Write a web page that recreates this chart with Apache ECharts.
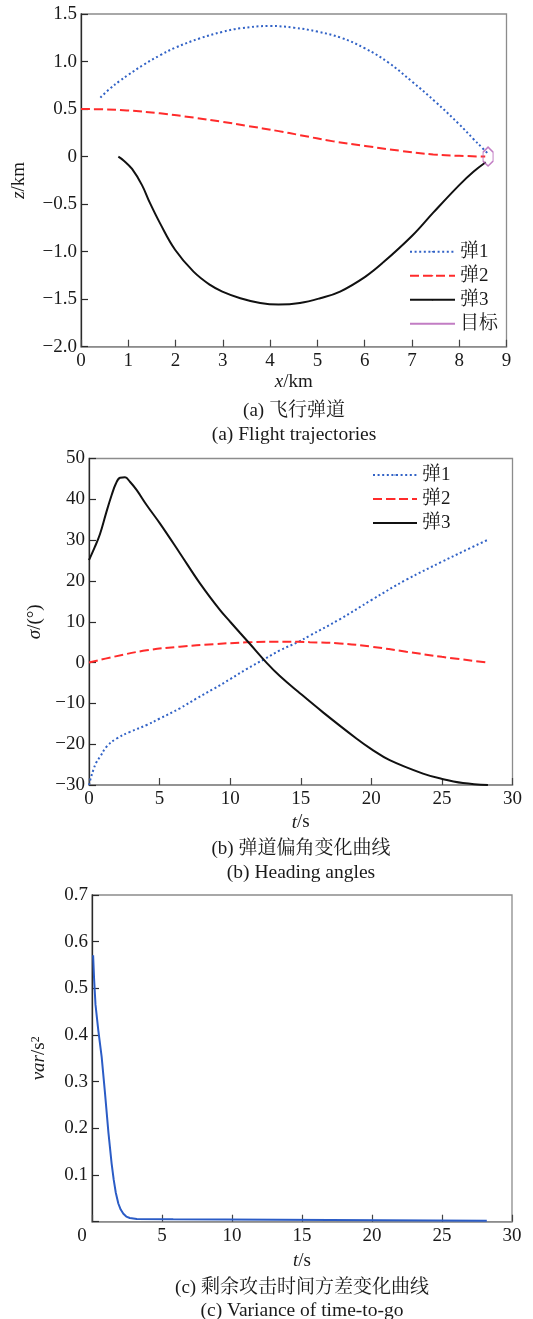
<!DOCTYPE html>
<html><head><meta charset="utf-8">
<script src="https://cdn.jsdelivr.net/npm/echarts/dist/echarts.min.js"></script>
<style>html,body{margin:0;padding:0;background:#fff}#c{width:533px;height:1319px}</style>
</head><body><div id="c"></div>
<script>
// ---------- (a) Flight trajectories ----------
const traj1X = [0.41, 0.60, 0.83, 1.00, 1.32, 1.67, 1.99, 2.52, 2.99, 3.37, 4.00, 4.50, 5.00, 5.50, 6.00, 6.50, 7.00, 7.50, 8.00, 8.30, 8.50, 8.60];
const traj1Z = [0.62, 0.71, 0.80, 0.86, 0.965, 1.065, 1.145, 1.245, 1.312, 1.35, 1.374, 1.356, 1.315, 1.25, 1.14, 0.99, 0.79, 0.575, 0.34, 0.185, 0.085, 0.035];
const traj2X = [0.00, 0.50, 0.97, 1.67, 2.38, 2.99, 3.51, 4.18, 4.63, 5.34, 6.01, 6.75, 7.45, 8.00, 8.55];
const traj2Z = [0.50, 0.497, 0.486, 0.455, 0.41, 0.366, 0.324, 0.268, 0.226, 0.160, 0.112, 0.061, 0.022, 0.008, 0.0];
const traj3X = [0.79, 0.90, 1.08, 1.29, 1.46, 1.67, 1.99, 2.38, 2.73, 2.99, 3.37, 3.79, 4.18, 4.63, 5.06, 5.48, 6.01, 6.40, 7.01, 7.45, 8.00, 8.30, 8.56];
const traj3Z = [0.0, -0.04, -0.13, -0.30, -0.49, -0.70, -0.98, -1.21, -1.35, -1.42, -1.49, -1.54, -1.556, -1.54, -1.49, -1.42, -1.265, -1.11, -0.83, -0.59, -0.30, -0.16, -0.06];
const targetX = [8.61];
const targetZ = [0.0];
const axisAX = ['0','1','2','3','4','5','6','7','8','9'];
const axisAY = ['−2.0','−1.5','−1.0','−0.5','0','0.5','1.0','1.5'];

// ---------- (b) Heading angles ----------
const head1T = [0, 0.15, 0.31, 0.50, 0.78, 1.25, 1.96, 2.90, 4.08, 5.02, 6.44, 7.62, 8.80, 10.03, 11.16, 12.46, 13.52, 14.80, 15.64, 17.76, 20.00, 22.48, 25.00, 26.49, 28.20];
const head1V = [-30, -28, -26.3, -24.6, -23.1, -20.6, -18.6, -17.0, -15.3, -13.7, -11.2, -8.8, -6.5, -4.0, -1.6, 0.9, 3.0, 5.0, 6.6, 10.6, 15.3, 20.3, 24.7, 27.2, 30.0];
const head2T = [0, 1.72, 4.08, 6.44, 8.80, 11.16, 13.00, 14.81, 15.64, 17.76, 20.00, 22.48, 25.00, 28.26];
const head2V = [0.0, 1.4, 3.0, 3.9, 4.5, 4.95, 5.1, 5.1, 5.0, 4.7, 3.9, 2.65, 1.4, 0.0];
const head3T = [0, 0.40, 0.78, 1.20, 1.60, 1.90, 2.20, 2.55, 2.90, 3.37, 4.08, 5.02, 6.44, 7.86, 9.27, 10.00, 10.69, 11.39, 12.57, 13.52, 14.80, 16.58, 18.94, 20.00, 21.30, 23.66, 25.00, 26.49, 28.26];
const head3V = [25.1, 28.2, 31.5, 36.5, 41.0, 43.8, 45.3, 45.4, 44.3, 42.3, 38.6, 34.1, 26.8, 19.4, 12.9, 10.0, 7.3, 4.6, 0.0, -3.3, -7.1, -12.2, -18.6, -21.2, -23.9, -27.2, -28.5, -29.5, -30.0];
const axisBX = ['0','5','10','15','20','25','30'];
const axisBY = ['−30','−20','−10','0','10','20','30','40','50'];

// ---------- (c) Variance of time-to-go ----------
const varT = [0.08, 0.15, 0.25, 0.45, 0.69, 0.93, 1.17, 1.40, 1.55, 1.70, 1.88, 2.05, 2.24, 2.45, 2.70, 3.20, 5.80, 5.90, 28.20];
const varV = [0.571, 0.52, 0.465, 0.41, 0.353, 0.275, 0.192, 0.125, 0.09, 0.062, 0.039, 0.026, 0.017, 0.011, 0.008, 0.006, 0.005, 0.002, 0.002];
const axisCX = ['0','5','10','15','20','25','30'];
const axisCY = ['','0.1','0.2','0.3','0.4','0.5','0.6','0.7'];

const legendNamesA = ['弹1','弹2','弹3','目标'];
const legendNamesB = ['弹1','弹2','弹3'];
const captions = [
  ['(a) 飞行弹道', '(a) Flight trajectories'],
  ['(b) 弹道偏角变化曲线', '(b) Heading angles'],
  ['(c) 剩余攻击时间方差变化曲线', '(c) Variance of time-to-go']
];

const FONT = "'Liberation Serif', 'Noto Serif CJK SC', 'Noto Sans CJK SC', serif";
const TXT = '#1a1a1a';
const FS = 19;
const pairs = (xs, ys) => xs.map((x, i) => [x, ys[i]]);

const styleBlue = {color: '#3162c6', width: 2, type: [2, 2.6], cap: 'butt'};
const styleRed = {color: '#ff2b2b', width: 2, type: [9, 4]};
const styleBlack = {color: '#111111', width: 2, type: 'solid'};
const purple = '#b35cb5';

function idxLabel(arr, min, step) {
  return v => { const i = Math.round((v - min) / step); return arr[i] !== undefined ? arr[i] : ''; };
}

const grids = [
  {left: 81, top: 14, width: 425.5, height: 332.7},
  {left: 89, top: 458.5, width: 423.5, height: 326.5},
  {left: 92, top: 895, width: 420, height: 326.7}
].map(g => Object.assign(g, {show: true, borderColor: '#8c8c8c', borderWidth: 1.3, backgroundColor: 'transparent', containLabel: false, outerBoundsMode: 'none'}));

function xAxis(gi, min, max, interval, labels, name, gap, shiftZero) {
  const fmt = idxLabel(labels, min, interval);
  return {
    type: 'value', gridIndex: gi, min, max, interval,
    name, nameLocation: 'middle', nameGap: gap,
    nameTextStyle: {fontFamily: FONT, fontSize: FS, color: TXT,
      rich: {i: {fontStyle: 'italic', fontFamily: FONT, fontSize: FS, color: TXT}}},
    axisLine: {show: true, onZero: false, lineStyle: {color: '#8c8c8c', width: 1.6}},
    axisTick: {show: true, inside: true, length: 7, lineStyle: {color: '#444', width: 1.2}},
    axisLabel: {show: true, margin: 5, fontFamily: FONT, fontSize: FS, color: TXT,
      showMinLabel: true, showMaxLabel: true, hideOverlap: false,
      formatter: shiftZero ? (v => v === 0 ? '{z|' + fmt(v) + '}' : fmt(v)) : fmt,
      rich: {z: {fontFamily: FONT, fontSize: FS, color: TXT, padding: [0, 20, 0, 0]}}},
    splitLine: {show: false}
  };
}
function yAxis(gi, min, max, interval, labels, name, gap, rich) {
  return {
    type: 'value', gridIndex: gi, min, max, interval,
    name, nameLocation: 'middle', nameGap: gap, nameRotate: 90,
    nameTextStyle: {fontFamily: FONT, fontSize: FS, color: TXT,
      rich: Object.assign({i: {fontStyle: 'italic', fontFamily: FONT, fontSize: FS, color: TXT}}, rich || {})},
    axisLine: {show: true, onZero: false, lineStyle: {color: '#2a2a2a', width: 1.3}},
    axisTick: {show: true, inside: true, length: 7, lineStyle: {color: '#2a2a2a', width: 1.2}},
    axisLabel: {show: true, margin: 4, fontFamily: FONT, fontSize: FS, color: TXT,
      showMinLabel: true, showMaxLabel: true, hideOverlap: false,
      formatter: idxLabel(labels, min, interval)},
    splitLine: {show: false}
  };
}

const lineSeries = (name, gi, data, ls, smooth) => ({
  name, type: 'line', xAxisIndex: gi, yAxisIndex: gi, data,
  symbol: 'none', showSymbol: false, smooth: smooth === undefined ? 0.4 : smooth,
  lineStyle: ls, itemStyle: {color: ls.color}, z: 3, silent: true
});

const chart = echarts.init(document.getElementById('c'), null, {renderer: 'canvas'});
const capGraphics = [];
const capCenters = [[294, 411, 435], [301, 849, 873], [302, 1288, 1311]];
captions.forEach((c, i) => {
  const [cx, y1, y2] = capCenters[i];
  capGraphics.push({type: 'text', x: cx, y: y1, style: {text: c[0], x: 0, y: 0, align: 'center', verticalAlign: 'middle', font: '19px ' + FONT, fill: TXT}});
  capGraphics.push({type: 'text', x: cx, y: y2, style: {text: c[1], x: 0, y: 0, align: 'center', verticalAlign: 'middle', font: '19.5px ' + FONT, fill: TXT}});
});

const legendText = {fontFamily: FONT, fontSize: FS, color: TXT};
chart.setOption({
  animation: false,
  backgroundColor: '#ffffff',
  grid: grids,
  xAxis: [
    xAxis(0, 0, 9, 1, axisAX, '{i|x}/km', 26),
    xAxis(1, 0, 30, 5, axisBX, '{i|t}/s', 28),
    xAxis(2, 0, 30, 5, axisCX, '{i|t}/s', 30, true)
  ],
  yAxis: [
    yAxis(0, -2, 1.5, 0.5, axisAY, '{i|z}/km', 52),
    yAxis(1, -30, 50, 10, axisBY, '{i|σ}/(°)', 41),
    yAxis(2, 0, 0.7, 0.1, axisCY, '{i|var}/s{sup|2}', 43, {sup: {fontFamily: FONT, fontSize: 12, color: TXT, verticalAlign: 'top', lineHeight: 19}})
  ],
  legend: [
    {left: 409, top: 242.2, orient: 'vertical', padding: 0, itemWidth: 45, itemHeight: 2, itemGap: 5,
     textStyle: legendText, selectedMode: false,
     data: legendNamesA.map(n => n === '目标' ? {name: n, icon: 'rect', itemStyle: {color: purple, borderWidth: 0}} : {name: n})},
    {left: 372, top: 465.5, orient: 'vertical', padding: 0, itemWidth: 44, itemHeight: 2, itemGap: 5,
     textStyle: legendText, selectedMode: false,
     data: legendNamesB.map(n => ({name: n}))}
  ],
  graphic: capGraphics,
  series: [
    lineSeries('弹1', 0, pairs(traj1X, traj1Z), styleBlue),
    lineSeries('弹2', 0, pairs(traj2X, traj2Z), styleRed),
    lineSeries('弹3', 0, pairs(traj3X, traj3Z), styleBlack),
    {name: '目标', type: 'scatter', xAxisIndex: 0, yAxisIndex: 0, data: pairs(targetX, targetZ),
     symbol: 'path://M5,0 L10,5 L10,14 L5,19 L0,14 L0,5 Z', symbolSize: [10, 19], symbolKeepAspect: false,
     itemStyle: {color: 'rgba(255,255,255,0)', borderColor: purple, borderWidth: 1.3}, z: 4, silent: true},
    lineSeries('弹1', 1, pairs(head1T, head1V), styleBlue),
    lineSeries('弹2', 1, pairs(head2T, head2V), styleRed),
    lineSeries('弹3', 1, pairs(head3T, head3V), styleBlack),
    lineSeries('var', 2, pairs(varT, varV), {color: '#2b5cc6', width: 2, type: 'solid'}, false)
  ]
});
</script></body></html>
